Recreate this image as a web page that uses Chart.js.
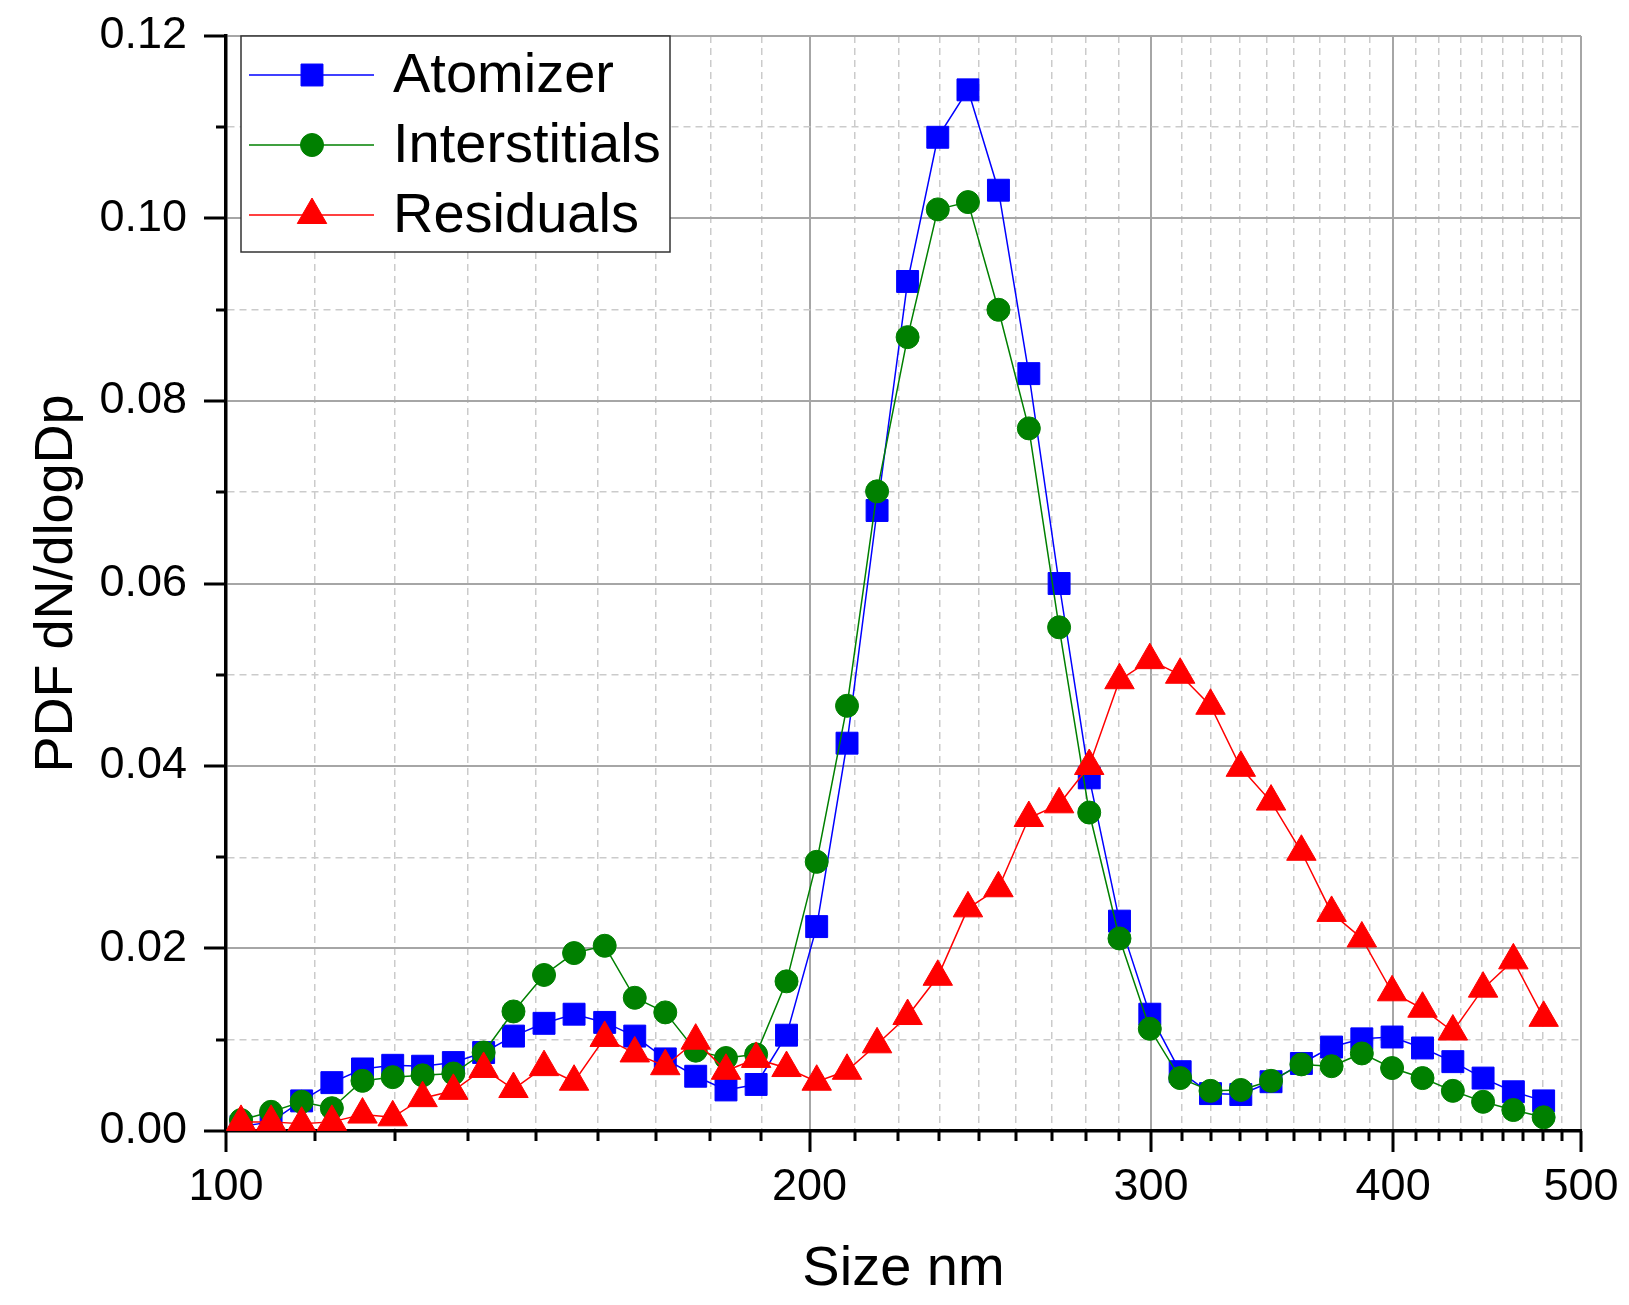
<!DOCTYPE html>
<html>
<head>
<meta charset="utf-8">
<title>PDF dN/dlogDp</title>
<script src="https://cdn.jsdelivr.net/npm/chart.js@4.4.1/dist/chart.umd.min.js"></script>
<style>
  html, body { margin: 0; padding: 0; background: #fff; }
  #wrap { width: 1629px; height: 1305px; position: relative; }
</style>
</head>
<body>
<div id="wrap"><canvas id="size-chart"></canvas></div>
<script>
// ── Data ──────────────────────────────────────────────────────────────────────
// SMPS channel midpoints (nm)
const sizes = [
  101.8, 105.5, 109.4, 113.4, 117.6, 121.9, 126.3, 131.0, 135.8, 140.7,
  145.9, 151.2, 156.8, 162.5, 168.5, 174.7, 181.1, 187.7, 194.6, 201.7,
  209.1, 216.7, 224.7, 232.9, 241.4, 250.3, 259.5, 269.0, 278.8, 289.0,
  299.6, 310.6, 322.0, 333.8, 346.0, 358.7, 371.8, 385.4, 399.5, 414.2,
  429.4, 445.1, 461.4, 478.3
];

const atomizer = [
  0.0005, 0.0010, 0.0033, 0.0053, 0.0068, 0.0072, 0.0071, 0.0075, 0.0086, 0.0104,
  0.0118, 0.0128, 0.0119, 0.0104, 0.0079, 0.0060, 0.0045, 0.0051, 0.0105, 0.0224,
  0.0425, 0.0680, 0.0931, 0.1089, 0.1141, 0.1031, 0.0830, 0.0600, 0.0387, 0.0230,
  0.0128, 0.0065, 0.0041, 0.0040, 0.0054, 0.0074, 0.0092, 0.0101, 0.0103, 0.0091,
  0.0076, 0.0058, 0.0043, 0.0033
];

const interstitials = [
  0.0012, 0.0021, 0.0032, 0.0025, 0.0055, 0.0059, 0.0061, 0.0063, 0.0086, 0.0131,
  0.0171, 0.0195, 0.0203, 0.0146, 0.0130, 0.0088, 0.0080, 0.0084, 0.0164, 0.0295,
  0.0466, 0.0701, 0.0870, 0.1010, 0.1018, 0.0900, 0.0770, 0.0552, 0.0349, 0.0211,
  0.0112, 0.0058, 0.0044, 0.0045, 0.0055, 0.0073, 0.0071, 0.0085, 0.0069, 0.0058,
  0.0044, 0.0032, 0.0023, 0.0015
];

const residuals = [
  0.0010, 0.0010, 0.0008, 0.0010, 0.0018, 0.0015, 0.0036, 0.0044, 0.0068, 0.0046,
  0.0070, 0.0054, 0.0102, 0.0085, 0.0071, 0.0099, 0.0066, 0.0079, 0.0069, 0.0054,
  0.0066, 0.0095, 0.0126, 0.0169, 0.0244, 0.0266, 0.0343, 0.0358, 0.0400, 0.0494,
  0.0516, 0.0500, 0.0466, 0.0398, 0.0361, 0.0306, 0.0239, 0.0211, 0.0152, 0.0134,
  0.0109, 0.0156, 0.0187, 0.0124
];

// Axis ticks
const xTickValues = [100, 200, 300, 400, 500];
const xTickLabels = ["100", "200", "300", "400", "500"];
const yTickValues = [0, 0.02, 0.04, 0.06, 0.08, 0.10, 0.12];
const yTickLabels = ["0.00", "0.02", "0.04", "0.06", "0.08", "0.10", "0.12"];

// ── Styling helpers ──────────────────────────────────────────────────────────
const FONT       = "'Liberation Sans', Arial, Helvetica, sans-serif";
const GRID_MAJOR = "#a6a6a6";
const GRID_MINOR = "#cbcbcb";

// 8 minor ticks between each pair of major ticks (linear steps)
function xAllTicks() {
  const out = [];
  for (let i = 0; i < xTickValues.length; i++) {
    out.push(xTickValues[i]);
    if (i < xTickValues.length - 1) {
      const a = xTickValues[i], b = xTickValues[i + 1];
      for (let k = 1; k <= 8; k++) out.push(a + (b - a) * k / 9);
    }
  }
  return out;
}

function xMajorIndex(v) {
  return xTickValues.findIndex(m => Math.abs(m - v) < 1e-6);
}
function yMajorIndex(v) {
  return yTickValues.findIndex(m => Math.abs(m - v) < 1e-9);
}

function points(values) {
  return sizes.map((s, i) => ({ x: s, y: values[i] }));
}

// ── Plugins ──────────────────────────────────────────────────────────────────
// tick marks drawn by hand: major ticks long, minor ticks short
const tickMarks = {
  id: "tickMarks",
  afterDraw(chart) {
    const { ctx, scales: { x, y } } = chart;
    ctx.save();
    ctx.strokeStyle = "#000";
    ctx.lineWidth = 3;
    x.ticks.forEach(t => {
      const px = Math.round(x.getPixelForValue(t.value));
      const len = xMajorIndex(t.value) >= 0 ? 21 : 10;
      ctx.beginPath();
      ctx.moveTo(px, x.top);
      ctx.lineTo(px, x.top + len);
      ctx.stroke();
    });
    y.ticks.forEach(t => {
      const py = Math.round(y.getPixelForValue(t.value));
      const len = yMajorIndex(t.value) >= 0 ? 22 : 10;
      ctx.beginPath();
      ctx.moveTo(y.right, py);
      ctx.lineTo(y.right - len, py);
      ctx.stroke();
    });
    ctx.restore();
  }
};

function markerPath(ctx, style, r, cx, cy) {
  ctx.beginPath();
  if (style === "rect") {
    const s = r * Math.SQRT1_2;
    ctx.rect(cx - s, cy - s, 2 * s, 2 * s);
  } else if (style === "triangle") {
    ctx.moveTo(cx, cy - r);
    ctx.lineTo(cx + r * 0.866, cy + r / 2);
    ctx.lineTo(cx - r * 0.866, cy + r / 2);
    ctx.closePath();
  } else {
    ctx.arc(cx, cy, r, 0, Math.PI * 2);
  }
}

const boxLegend = {
  id: "boxLegend",
  afterDatasetsDraw(chart) {
    const { ctx, chartArea } = chart;
    const left = chartArea.left + 15;
    const top  = chartArea.top;
    const w = 429, h = 216;

    ctx.save();
    ctx.fillStyle = "#fff";
    ctx.fillRect(left, top, w, h);
    ctx.strokeStyle = "#333";
    ctx.lineWidth = 1.5;
    ctx.strokeRect(left, top, w, h);

    const entries = chart.data.datasets.slice().sort((a, b) => a.legendRow - b.legendRow);
    entries.forEach((ds, i) => {
      const cy = top + 39 + i * 70;
      ctx.strokeStyle = ds.borderColor;
      ctx.lineWidth = 1.5;
      ctx.beginPath();
      ctx.moveTo(left + 8, cy);
      ctx.lineTo(left + 133, cy);
      ctx.stroke();

      ctx.fillStyle = ds.pointBackgroundColor;
      ctx.strokeStyle = ds.pointBorderColor;
      ctx.lineWidth = 1;
      markerPath(ctx, ds.pointStyle, ds.pointRadius, left + 71, cy);
      ctx.fill();
      ctx.stroke();

      ctx.fillStyle = "#000";
      ctx.font = "56px " + FONT;
      ctx.textBaseline = "middle";
      ctx.textAlign = "left";
      ctx.fillText(ds.label, left + 152, cy + 2);
    });
    ctx.restore();
  }
};

// ── Chart ────────────────────────────────────────────────────────────────────
function series(label, values, color, style, radius, order, row) {
  return {
    label,
    data: points(values),
    borderColor: color,
    backgroundColor: color,
    borderWidth: 1.5,
    pointStyle: style,
    pointRadius: radius,
    pointHoverRadius: radius,
    pointBackgroundColor: color,
    pointBorderColor: color,
    pointBorderWidth: 1,
    tension: 0,
    fill: false,
    order,
    legendRow: row
  };
}

function initChart() {
  const canvas = document.getElementById("size-chart");

  new Chart(canvas, {
    type: "line",
    data: {
      datasets: [
        series("Atomizer",      atomizer,      "#0000ff", "rect",     15.5, 2, 0),
        series("Interstitials", interstitials, "#008000", "circle",   11.5, 1, 1),
        series("Residuals",     residuals,     "#ff0000", "triangle", 17,   0, 2)
      ]
    },
    options: {
      responsive: true,
      maintainAspectRatio: false,
      animation: false,
      layout: { padding: { top: 36, right: 48, left: 0, bottom: 0 } },
      plugins: {
        legend:  { display: false },
        tooltip: { enabled: false }
      },
      scales: {
        x: {
          type: "logarithmic",
          min: 100,
          max: 500,
          afterFit: s => { s.height = 174; },
          afterBuildTicks: s => {
            s.ticks = xAllTicks().map(v => ({ value: v }));
          },
          ticks: {
            autoSkip: false,
            maxRotation: 0,
            minRotation: 0,
            padding: 9,
            color: "#000",
            font: { family: FONT, size: 45 },
            callback: v => {
              const i = xMajorIndex(v);
              return i >= 0 ? xTickLabels[i] : "";
            }
          },
          grid: {
            drawTicks: true,
            tickLength: 21,
            tickColor: "rgba(0,0,0,0)",
            color: c => (c.tick && xMajorIndex(c.tick.value) >= 0) ? GRID_MAJOR : GRID_MINOR,
            lineWidth: c => (c.tick && xMajorIndex(c.tick.value) >= 0) ? 2 : 1.5
          },
          border: {
            display: true,
            color: "#000",
            width: 3.5,
            dash: c => (c.tick && xMajorIndex(c.tick.value) < 0) ? [7, 5] : []
          },
          title: {
            display: true,
            text: "Size nm",
            color: "#000",
            font: { family: FONT, size: 56 },
            padding: { top: 0, bottom: 2 }
          }
        },
        y: {
          min: 0,
          max: 0.12,
          afterFit: s => { s.width = 226; },
          afterBuildTicks: s => {
            const t = [];
            for (let k = 0; k <= 12; k++) t.push({ value: k / 100 });
            s.ticks = t;
          },
          ticks: {
            autoSkip: false,
            padding: 0,
            color: "#000",
            font: { family: FONT, size: 45 },
            callback: v => {
              const i = yMajorIndex(v);
              return i >= 0 ? yTickLabels[i] : "";
            }
          },
          grid: {
            drawTicks: true,
            tickLength: 39,
            tickColor: "rgba(0,0,0,0)",
            color: c => (c.tick && yMajorIndex(c.tick.value) >= 0) ? GRID_MAJOR : GRID_MINOR,
            lineWidth: c => (c.tick && yMajorIndex(c.tick.value) >= 0) ? 2 : 1.5
          },
          border: {
            display: true,
            color: "#000",
            width: 3.5,
            dash: c => (c.tick && yMajorIndex(c.tick.value) < 0) ? [7, 5] : []
          },
          title: {
            display: true,
            text: "PDF dN/dlogDp",
            color: "#000",
            font: { family: FONT, size: 54 },
            padding: { top: 25, bottom: 0 }
          }
        }
      }
    },
    plugins: [boxLegend, tickMarks]
  });
}

document.addEventListener("DOMContentLoaded", initChart);
</script>
</body>
</html>
